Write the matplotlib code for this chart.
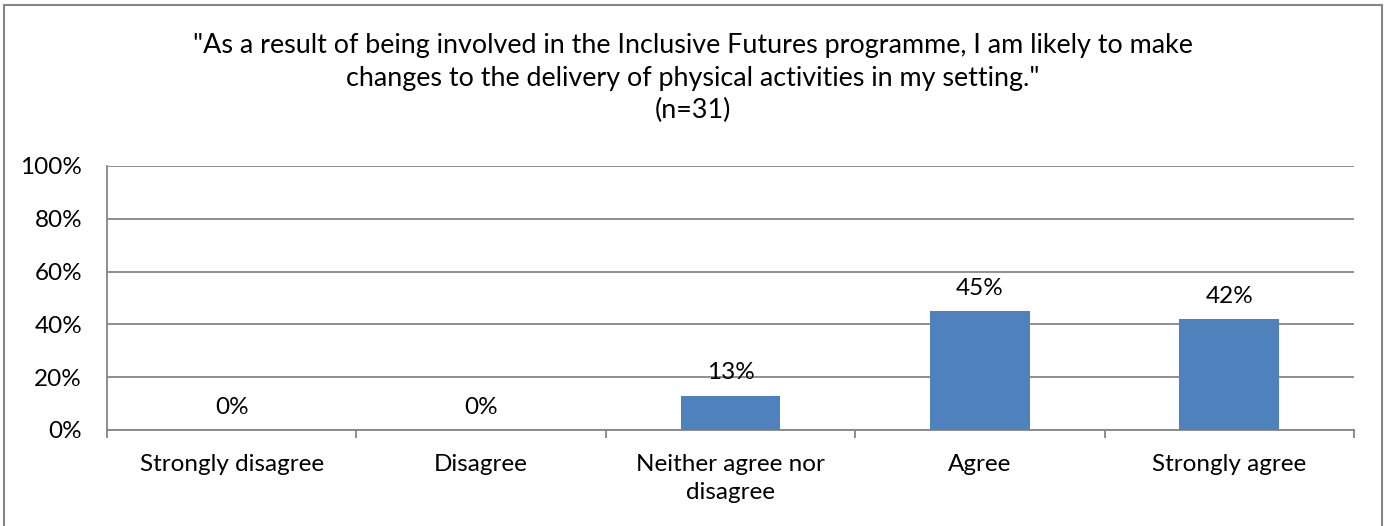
import numpy as np
import matplotlib.pyplot as plt
from matplotlib.patches import Rectangle

# Survey responses (n=31)
categories = ["Strongly disagree", "Disagree", "Neither agree nor\ndisagree", "Agree", "Strongly agree"]
shares = [0, 0, 13, 45, 42]
y_ticks = [0, 20, 40, 60, 80, 100]
title = ('"As a result of being involved in the Inclusive Futures programme, I am likely to make\n'
         'changes to the delivery of physical activities in my setting."\n(n=31)')

plt.rcParams['font.family'] = ['Lato', 'DejaVu Sans']
grey = '#868686'

fig = plt.figure(figsize=(13.86, 5.26), dpi=100)
W, H = 1386, 526
ax = fig.add_axes([107 / W, 1 - 430 / H, (1354 - 107) / W, (430 - 166) / H])

x = np.arange(len(categories))
ax.bar(x, shares, width=0.4, color='#4F81BD', zorder=3)
for xi, v in zip(x, shares):
    ax.annotate(f"{v}%", (xi, v), xytext=(0, 9), textcoords='offset points',
                ha='center', va='bottom', fontsize=17.5, color='black')

ax.set_xlim(-0.5, len(categories) - 0.5)
ax.set_ylim(0, 100)
ax.set_yticks(y_ticks)
ax.set_yticklabels([f"{t}%" for t in y_ticks], fontsize=17.5)
ax.yaxis.grid(True, color=grey, linewidth=1.3, zorder=0)
ax.tick_params(axis='y', length=0, pad=18)

# category labels between boundary tick marks
ax.set_xticks(x)
ax.set_xticklabels(categories, fontsize=17.5, linespacing=1.45)
ax.tick_params(axis='x', length=0, pad=17)
ax.set_xticks(np.arange(len(categories) + 1) - 0.5, minor=True)
ax.tick_params(axis='x', which='minor', length=6, width=1.3, color=grey)

for side in ['top', 'right']:
    ax.spines[side].set_visible(False)
for side in ['left', 'bottom']:
    ax.spines[side].set_color(grey)
    ax.spines[side].set_linewidth(1.3)

fig.text(0.5, 1 - 33 / H, title, ha='center', va='top', fontsize=19.4, linespacing=1.38)

# chart border
fig.patches.append(Rectangle((4 / W, -0.05), (1382 - 4) / W, 1 - 5 / H + 0.05,
                             transform=fig.transFigure, fill=False,
                             edgecolor=grey, linewidth=1.5))

fig.savefig("out.png", dpi=100)
